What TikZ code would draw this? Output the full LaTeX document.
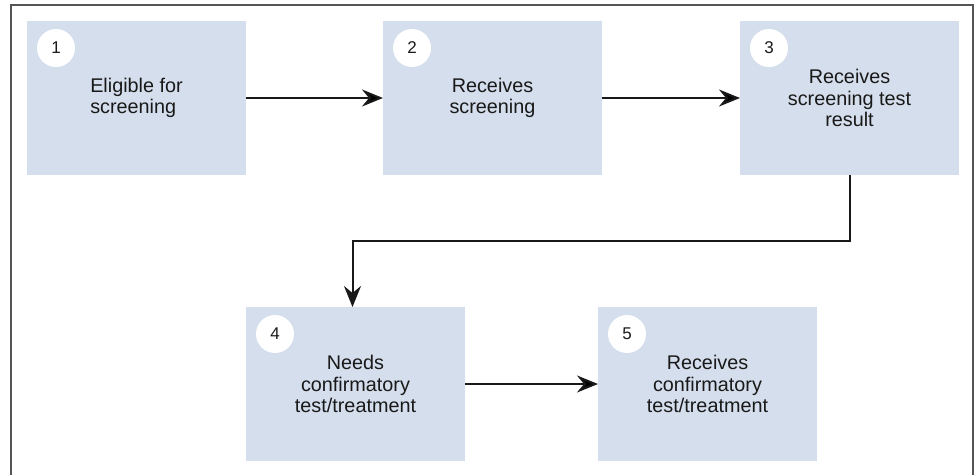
\documentclass[tikz,border=0pt]{standalone}
\usepackage{fontspec}
\setmainfont{Liberation Sans}
\usetikzlibrary{positioning, arrows.meta}

\definecolor{boxblue}{RGB}{213,222,236}
\definecolor{inkdark}{RGB}{25,25,25}
\definecolor{framegray}{RGB}{85,85,85}

\tikzset{
    stepbox/.style={rectangle, fill=boxblue, minimum width=219pt, minimum height=154pt,
        inner sep=0pt, outer sep=0pt, align=center, text=inkdark,
        font=\fontsize{19.8pt}{21.5pt}\selectfont},
    badge/.style={circle, fill=white, minimum size=38pt, inner sep=0pt, text=inkdark,
        font=\fontsize{17pt}{18pt}\selectfont},
    frameline/.style={draw=framegray, line width=1.3pt}
}

\begin{document}
\begin{tikzpicture}[>={Stealth[length=21pt, width=17pt, inset=7pt]}, line width=2pt]
    \useasboundingbox (0pt,0pt) rectangle (978pt,-475pt);

    % Outer frame (open at the bottom)
    \draw[frameline] (11pt,-475pt) |- (973pt,-5pt) -- (973pt,-475pt);

    % Row 1: screening
    \node[stepbox, align=left] (b1) at (136.5pt,-98pt) {Eligible for\\screening};
    \node[stepbox] (b2) [right=137pt of b1] {Receives\\screening};
    \node[stepbox] (b3) [right=138pt of b2] {Receives\\screening test\\result};

    % Row 2: follow-up
    \node[stepbox] (b4) [below=132pt of b1.south east, anchor=north west] {Needs\\confirmatory\\test/treatment};
    \node[stepbox] (b5) [right=133pt of b4] {Receives\\confirmatory\\test/treatment};

    % Step numbers
    \foreach \n in {1,...,5}
        \node[badge] (n\n) at ([xshift=29pt, yshift=-27pt]b\n.north west) {\n};

    % Transitions
    \path[->, draw=inkdark]
    (b1) edge (b2)
    (b2) edge (b3)
    (b4) edge (b5);
    \draw[->, inkdark] (b3.south) -- ++(0,-65.5pt) -| ([xshift=-3pt]b4.north);
\end{tikzpicture}
\end{document}
